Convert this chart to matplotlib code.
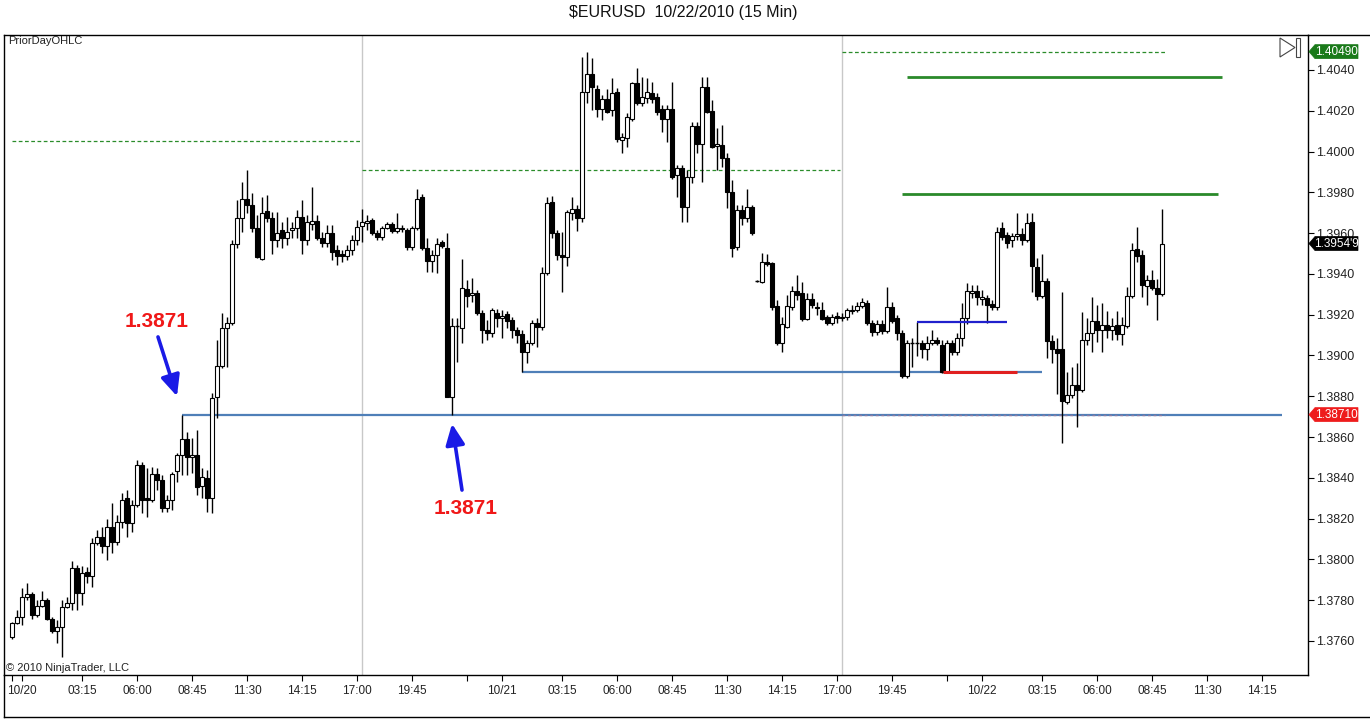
import matplotlib
matplotlib.use("Agg")
import matplotlib.pyplot as plt
from matplotlib.patches import Rectangle, Polygon
import numpy as np

plt.rcParams['font.family'] = ['Liberation Sans', 'DejaVu Sans']

# ---------------- data (15-min bars, 10/19 23:45 .. 10/22 09:15) ----------------
opens = [
1.37619, 1.37688, 1.37717, 1.37815, 1.37830, 1.37727, 1.37771, 1.37801, 1.37707, 1.37649,
1.37668, 1.37766, 1.37786, 1.37958, 1.37835, 1.37938, 1.37918, 1.38080, 1.38110, 1.38065,
1.38159, 1.38085, 1.38183, 1.38301, 1.38178, 1.38266, 1.38463, 1.38301, 1.38291, 1.38418,
1.38389, 1.38252, 1.38291, 1.38433, 1.38512, 1.38590, 1.38502, 1.38512, 1.38360, 1.38399,
1.38301, 1.38796, 1.38948, 1.39134, 1.39159, 1.39546, 1.39674, 1.39767, 1.39738, 1.39625,
1.39473, 1.39708, 1.39674, 1.39566, 1.39615, 1.39576, 1.39615, 1.39625, 1.39679, 1.39566,
1.39644, 1.39659, 1.39576, 1.39551, 1.39600, 1.39517, 1.39497, 1.39488, 1.39517, 1.39566,
1.39635, 1.39649, 1.39664, 1.39600, 1.39581, 1.39625, 1.39644, 1.39610, 1.39625, 1.39615,
1.39532, 1.39625, 1.39777, 1.39527, 1.39463, 1.39493, 1.39556, 1.39527, 1.38796, 1.39144,
1.39134, 1.39326, 1.39296, 1.39306, 1.39208, 1.39125, 1.39110, 1.39208, 1.39184, 1.39203,
1.39174, 1.39125, 1.39105, 1.39017, 1.39061, 1.39159, 1.39139, 1.39404, 1.39752, 1.39600,
1.39493, 1.39483, 1.39698, 1.39718, 1.39674, 1.40292, 1.40380, 1.40307, 1.40208, 1.40258,
1.40204, 1.40292, 1.40056, 1.40066, 1.40159, 1.40336, 1.40238, 1.40262, 1.40287, 1.40267,
1.40208, 1.40159, 1.40208, 1.39885, 1.39919, 1.39728, 1.39875, 1.40125, 1.40037, 1.40316,
1.40199, 1.40027, 1.40032, 1.39968, 1.39801, 1.39532, 1.39713, 1.39674, 1.39728, 1.39365,
1.39360, 1.39458, 1.39453, 1.39242, 1.39061, 1.39139, 1.39238, 1.39316, 1.39306, 1.39179,
1.39277, 1.39238, 1.39223, 1.39188, 1.39159, 1.39193, 1.39188, 1.39188, 1.39218, 1.39223,
1.39242, 1.39257, 1.39159, 1.39115, 1.39154, 1.39120, 1.39238, 1.39184, 1.39110, 1.38899,
1.39061, 1.39061, 1.39061, 1.39031, 1.39061, 1.39076, 1.39051, 1.38919, 1.39061, 1.39017,
1.39085, 1.39184, 1.39306, 1.39316, 1.39277, 1.39282, 1.39252, 1.39238, 1.39625, 1.39591,
1.39566, 1.39586, 1.39595, 1.39566, 1.39654, 1.39434, 1.39291, 1.39365, 1.39071, 1.39031,
1.39031, 1.38772, 1.38806, 1.38855, 1.38830, 1.39076, 1.39110, 1.39169, 1.39125, 1.39149,
1.39125, 1.39149, 1.39105, 1.39144, 1.39291, 1.39522, 1.39493, 1.39341, 1.39370, 1.39331,
1.39301]

highs = [
1.37693, 1.37752, 1.37859, 1.37884, 1.37840, 1.37801, 1.37845, 1.37810, 1.37717, 1.37702,
1.37801, 1.37815, 1.37992, 1.37972, 1.37967, 1.37962, 1.38105, 1.38144, 1.38159, 1.38198,
1.38276, 1.38217, 1.38325, 1.38340, 1.38291, 1.38487, 1.38477, 1.38448, 1.38453, 1.38448,
1.38414, 1.38315, 1.38428, 1.38521, 1.38710, 1.38624, 1.38595, 1.38634, 1.38448, 1.38438,
1.38816, 1.39076, 1.39208, 1.39188, 1.39566, 1.39762, 1.39850, 1.39909, 1.39797, 1.39689,
1.39777, 1.39787, 1.39703, 1.39703, 1.39654, 1.39679, 1.39654, 1.39713, 1.39762, 1.39689,
1.39826, 1.39689, 1.39605, 1.39640, 1.39640, 1.39542, 1.39517, 1.39542, 1.39591, 1.39664,
1.39718, 1.39689, 1.39674, 1.39615, 1.39635, 1.39654, 1.39654, 1.39698, 1.39640, 1.39625,
1.39635, 1.39816, 1.39792, 1.39576, 1.39517, 1.39576, 1.39566, 1.39600, 1.39184, 1.39184,
1.39473, 1.39370, 1.39380, 1.39321, 1.39223, 1.39174, 1.39233, 1.39228, 1.39223, 1.39218,
1.39188, 1.39139, 1.39125, 1.39076, 1.39174, 1.39184, 1.39434, 1.39777, 1.39782, 1.39615,
1.39605, 1.39713, 1.39777, 1.39738, 1.40464, 1.40490, 1.40459, 1.40326, 1.40277, 1.40307,
1.40361, 1.40311, 1.40091, 1.40189, 1.40341, 1.40410, 1.40365, 1.40361, 1.40341, 1.40287,
1.40228, 1.40228, 1.40341, 1.39934, 1.39934, 1.39909, 1.40145, 1.40145, 1.40365, 1.40365,
1.40253, 1.40115, 1.40130, 1.39993, 1.39860, 1.39738, 1.39738, 1.39816, 1.39738, 1.39370,
1.39502, 1.39497, 1.39458, 1.39272, 1.39188, 1.39296, 1.39341, 1.39394, 1.39360, 1.39306,
1.39306, 1.39262, 1.39262, 1.39198, 1.39203, 1.39213, 1.39208, 1.39233, 1.39247, 1.39262,
1.39282, 1.39272, 1.39174, 1.39174, 1.39174, 1.39336, 1.39262, 1.39198, 1.39125, 1.39076,
1.39085, 1.39164, 1.39076, 1.39095, 1.39125, 1.39090, 1.39076, 1.39076, 1.39076, 1.39110,
1.39257, 1.39355, 1.39345, 1.39345, 1.39321, 1.39296, 1.39272, 1.39630, 1.39654, 1.39605,
1.39600, 1.39698, 1.39625, 1.39698, 1.39698, 1.39478, 1.39497, 1.39380, 1.39100, 1.39085,
1.39311, 1.38919, 1.38943, 1.38963, 1.39213, 1.39184, 1.39287, 1.39247, 1.39257, 1.39218,
1.39184, 1.39218, 1.39188, 1.39336, 1.39551, 1.39630, 1.39517, 1.39394, 1.39419, 1.39375,
1.39718]

lows = [
1.37609, 1.37683, 1.37678, 1.37801, 1.37707, 1.37717, 1.37766, 1.37702, 1.37639, 1.37590,
1.37521, 1.37761, 1.37752, 1.37752, 1.37776, 1.37884, 1.37864, 1.38070, 1.38031, 1.37997,
1.38031, 1.38070, 1.38154, 1.38110, 1.38134, 1.38257, 1.38227, 1.38208, 1.38281, 1.38340,
1.38232, 1.38232, 1.38242, 1.38379, 1.38414, 1.38414, 1.38423, 1.38315, 1.38301, 1.38232,
1.38227, 1.38693, 1.38938, 1.38943, 1.39149, 1.39527, 1.39605, 1.39698, 1.39605, 1.39478,
1.39468, 1.39654, 1.39497, 1.39532, 1.39527, 1.39542, 1.39576, 1.39576, 1.39497, 1.39542,
1.39615, 1.39566, 1.39532, 1.39532, 1.39468, 1.39443, 1.39458, 1.39468, 1.39493, 1.39542,
1.39556, 1.39615, 1.39591, 1.39566, 1.39566, 1.39620, 1.39600, 1.39600, 1.39605, 1.39517,
1.39517, 1.39615, 1.39517, 1.39409, 1.39409, 1.39404, 1.39527, 1.38796, 1.38710, 1.38968,
1.39061, 1.39238, 1.39262, 1.39198, 1.39061, 1.39076, 1.39090, 1.39139, 1.39085, 1.39134,
1.39085, 1.39061, 1.38919, 1.38963, 1.39051, 1.39041, 1.39125, 1.39394, 1.39576, 1.39468,
1.39311, 1.39439, 1.39664, 1.39610, 1.39654, 1.40238, 1.40204, 1.40169, 1.40154, 1.40189,
1.40174, 1.40047, 1.39993, 1.40022, 1.40150, 1.40228, 1.40223, 1.40238, 1.40238, 1.40179,
1.40096, 1.40047, 1.39865, 1.39777, 1.39654, 1.39654, 1.39846, 1.39993, 1.39850, 1.40189,
1.40017, 1.39909, 1.39924, 1.39723, 1.39483, 1.39517, 1.39640, 1.39654, 1.39591, 1.39360,
1.39355, 1.39439, 1.39223, 1.39051, 1.39017, 1.39134, 1.39223, 1.39272, 1.39169, 1.39174,
1.39233, 1.39198, 1.39174, 1.39149, 1.39149, 1.39159, 1.39169, 1.39174, 1.39203, 1.39213,
1.39233, 1.39149, 1.39095, 1.39100, 1.39105, 1.39110, 1.39159, 1.39076, 1.38889, 1.38889,
1.38943, 1.38997, 1.38987, 1.38978, 1.39051, 1.39051, 1.38914, 1.38914, 1.39002, 1.39002,
1.39046, 1.39154, 1.39282, 1.39247, 1.39247, 1.39159, 1.39223, 1.39223, 1.39566, 1.39527,
1.39532, 1.39566, 1.39542, 1.39556, 1.39311, 1.39272, 1.39282, 1.38987, 1.38963, 1.38811,
1.38570, 1.38762, 1.38791, 1.38649, 1.38821, 1.39051, 1.39017, 1.39066, 1.39017, 1.39085,
1.39076, 1.39076, 1.39051, 1.39134, 1.39282, 1.39458, 1.39287, 1.39247, 1.39321, 1.39174,
1.39291]

closes = [
1.37688, 1.37717, 1.37815, 1.37830, 1.37727, 1.37771, 1.37801, 1.37707, 1.37649, 1.37668,
1.37766, 1.37786, 1.37958, 1.37835, 1.37933, 1.37918, 1.38080, 1.38110, 1.38065, 1.38159,
1.38085, 1.38183, 1.38291, 1.38178, 1.38266, 1.38463, 1.38291, 1.38291, 1.38418, 1.38389,
1.38252, 1.38291, 1.38418, 1.38512, 1.38590, 1.38502, 1.38512, 1.38355, 1.38404, 1.38301,
1.38791, 1.38948, 1.39134, 1.39159, 1.39546, 1.39674, 1.39767, 1.39738, 1.39625, 1.39483,
1.39698, 1.39674, 1.39566, 1.39600, 1.39576, 1.39605, 1.39625, 1.39679, 1.39566, 1.39654,
1.39659, 1.39576, 1.39551, 1.39600, 1.39507, 1.39488, 1.39488, 1.39517, 1.39566, 1.39630,
1.39654, 1.39659, 1.39600, 1.39581, 1.39625, 1.39644, 1.39610, 1.39625, 1.39620, 1.39532,
1.39625, 1.39767, 1.39527, 1.39463, 1.39493, 1.39546, 1.39537, 1.38796, 1.39144, 1.39144,
1.39331, 1.39291, 1.39306, 1.39208, 1.39125, 1.39110, 1.39223, 1.39184, 1.39193, 1.39169,
1.39125, 1.39100, 1.39017, 1.39061, 1.39159, 1.39139, 1.39404, 1.39748, 1.39600, 1.39493,
1.39483, 1.39703, 1.39718, 1.39674, 1.40292, 1.40380, 1.40316, 1.40208, 1.40258, 1.40194,
1.40287, 1.40061, 1.40071, 1.40169, 1.40336, 1.40238, 1.40267, 1.40292, 1.40258, 1.40194,
1.40159, 1.40208, 1.39875, 1.39919, 1.39728, 1.39875, 1.40125, 1.40037, 1.40316, 1.40194,
1.40022, 1.40037, 1.39968, 1.39801, 1.39527, 1.39713, 1.39674, 1.39728, 1.39600, 1.39365,
1.39458, 1.39448, 1.39238, 1.39061, 1.39154, 1.39242, 1.39316, 1.39296, 1.39179, 1.39277,
1.39247, 1.39233, 1.39179, 1.39159, 1.39188, 1.39184, 1.39184, 1.39223, 1.39223, 1.39242,
1.39262, 1.39159, 1.39115, 1.39154, 1.39120, 1.39238, 1.39169, 1.39110, 1.38899, 1.39061,
1.39061, 1.39061, 1.39031, 1.39061, 1.39076, 1.39061, 1.38919, 1.39061, 1.39017, 1.39085,
1.39184, 1.39316, 1.39316, 1.39287, 1.39287, 1.39247, 1.39238, 1.39605, 1.39581, 1.39551,
1.39586, 1.39595, 1.39566, 1.39649, 1.39439, 1.39291, 1.39365, 1.39071, 1.39031, 1.39012,
1.38777, 1.38806, 1.38855, 1.38830, 1.39076, 1.39110, 1.39169, 1.39125, 1.39149, 1.39125,
1.39144, 1.39105, 1.39149, 1.39291, 1.39517, 1.39488, 1.39345, 1.39370, 1.39331, 1.39301,
1.39549]

# x-axis ticks (bar index) and labels
tick_pos = [0, 2, 14, 25, 36, 47, 58, 69, 80, 91, 98, 110, 121, 132, 143, 154, 165, 176,
            187, 194, 206, 217, 228, 239, 250]
tick_lbl = ["", "10/20", "03:15", "06:00", "08:45", "11:30", "14:15", "17:00", "19:45", "",
            "10/21", "03:15", "06:00", "08:45", "11:30", "14:15", "17:00", "19:45", "",
            "10/22", "03:15", "06:00", "08:45", "11:30", "14:15"]
price_ticks = [1.3760, 1.3780, 1.3800, 1.3820, 1.3840, 1.3860, 1.3880, 1.3900,
               1.3920, 1.3940, 1.3960, 1.3980, 1.4000, 1.4020, 1.4040]

session_starts = [70, 166]
prior_high = [1.40050, 1.39910, 1.40490]
prior_high_span = [(0, 69.6), (70, 165.6), (166, 230.6)]
prior_low = 1.38710
prior_low_span = (166, 230.6)
support_1 = 1.38710
support_1_span = (34, 254)
support_2 = 1.38919
support_2_span = (102, 206)
blue_level = 1.39164
blue_span = (181, 199)
red_level = 1.38919
red_span = (186.2, 201)
green_levels = [1.40365, 1.39792]
green_spans = [(179, 242), (178, 241.2)]
last_price = 1.39549

W, H = 1370, 719
fig = plt.figure(figsize=(W / 100, H / 100), dpi=100)
fig.patch.set_facecolor('white')

AX_L, AX_R, AX_T, AX_B = 4, 1308, 35, 675
ax = fig.add_axes([AX_L / W, 1 - AX_B / H, (AX_R - AX_L) / W, (AX_B - AX_T) / H])
ax.set_facecolor('white')

XMIN, XMAX = -1.6, 259.2
YMIN, YMAX = 1.374331, 1.405716
ax.set_xlim(XMIN, XMAX)
ax.set_ylim(YMIN, YMAX)

def fx(px):
    return px / W

def fy(py):
    return 1 - py / H

def price_to_py(p):
    return AX_T + (YMAX - p) / (YMAX - YMIN) * (AX_B - AX_T)

# session separators
for s in session_starts:
    ax.axvline(s, color='#c8c8c8', lw=1.0, zorder=1)

# candles
n = len(closes)
xs = np.arange(n)
ax.vlines(xs, lows, highs, color='black', lw=1.0, zorder=3)
bw = 0.78
for i in range(n):
    o, c = opens[i], closes[i]
    bot = min(o, c)
    h = abs(c - o)
    fc = 'white' if c >= o else 'black'
    if h < 1e-6:
        ax.hlines(o, i - bw / 2, i + bw / 2, color='black', lw=1.0, zorder=4)
    else:
        ax.add_patch(Rectangle((i - bw / 2, bot), bw, h, facecolor=fc,
                               edgecolor='black', lw=0.8, zorder=4))

# prior day OHLC lines
for lvl, (a, b) in zip(prior_high, prior_high_span):
    ax.hlines(lvl, a, b, color='#2a8c2a', lw=0.9, linestyles=(0, (3, 2)), zorder=2)
ax.hlines(prior_low, prior_low_span[0], prior_low_span[1], color='#8c7aa0', lw=1.0,
          linestyles=(0, (2, 2)), zorder=2.5)

# drawn lines
ax.hlines(support_1, *support_1_span, color='#4f7fb8', lw=1.6, zorder=2)
ax.hlines(support_2, *support_2_span, color='#4f7fb8', lw=1.6, zorder=2)
ax.hlines(blue_level, *blue_span, color='#2020cc', lw=1.6, zorder=5)
ax.hlines(red_level, *red_span, color='#e02020', lw=2.2, zorder=5)
for lvl, sp in zip(green_levels, green_spans):
    ax.hlines(lvl, *sp, color='#2a8a2a', lw=2.0, zorder=2)

# annotations
red_txt = '#f01818'
ax.text(29.0, 1.39169, "1.3871", color=red_txt, fontsize=15, fontweight='bold',
        ha='center', va='center', zorder=6)
ax.text(90.8, 1.38252, "1.3871", color=red_txt, fontsize=15, fontweight='bold',
        ha='center', va='center', zorder=6)
arrow_kw = dict(arrowstyle='-|>,head_length=0.7,head_width=0.32', color='#1a1ae6',
                lw=2.6, mutation_scale=18, shrinkA=0, shrinkB=0)
ax.annotate('', xy=(33.0, 1.38800), xytext=(29.2, 1.39091), arrowprops=arrow_kw, zorder=6)
ax.annotate('', xy=(88.0, 1.38665), xytext=(90.0, 1.38340), arrowprops=arrow_kw, zorder=6)

# axes styling
for side in ['top', 'left', 'right', 'bottom']:
    ax.spines[side].set_color('black')
    ax.spines[side].set_linewidth(1.0)
ax.yaxis.tick_right()
ax.set_yticks(price_ticks)
ax.set_yticklabels([f"{p:.4f}" for p in price_ticks])
ax.tick_params(axis='y', direction='out', length=4, width=0.8, pad=2,
               labelsize=9, labelcolor='#222222', colors='black')
ax.set_xticks(tick_pos)
ax.set_xticklabels(tick_lbl)
ax.tick_params(axis='x', direction='out', length=4.5, width=0.8, pad=2.5,
               labelsize=8.5, labelcolor='#222222', colors='black')

# outer frame pieces
fig.add_artist(plt.Line2D([fx(AX_R), fx(1370)], [fy(AX_T), fy(AX_T)], color='black', lw=1.0))
fig.add_artist(plt.Line2D([fx(AX_L), fx(AX_L)], [fy(AX_B), fy(717)], color='black', lw=1.0))
fig.add_artist(plt.Line2D([fx(AX_L), fx(1370)], [fy(717), fy(717)], color='black', lw=1.0))

# price tags
def tag(price, text, color):
    py = price_to_py(price)
    hh = 7
    verts = [(fx(1309), fy(py)), (fx(1315), fy(py - hh)), (fx(1358), fy(py - hh)),
             (fx(1358), fy(py + hh)), (fx(1315), fy(py + hh))]
    fig.add_artist(Polygon(verts, closed=True, facecolor=color, edgecolor=color, lw=0.5,
                           zorder=10))
    fig.text(fx(1336.5), fy(py), text, color='white', fontsize=8.5, ha='center',
             va='center', zorder=11)

tag(prior_high[2], "1.40490", '#1a7a1a')
tag(last_price, "1.3954'9", '#000000')
tag(prior_low, "1.38710", '#ee1c1c')

# play icon
fig.add_artist(Polygon([(fx(1280), fy(38)), (fx(1280), fy(57)), (fx(1295), fy(47.5))],
                       closed=True, facecolor='white', edgecolor='#444444', lw=0.8))
fig.add_artist(Rectangle((fx(1296), fy(57)), fx(4), 19 / H, facecolor='white',
                         edgecolor='#444444', lw=0.8))

# texts
fig.text(fx(683), fy(12), "$EURUSD  10/22/2010 (15 Min)", ha='center', va='center',
         fontsize=11.5, color='#111111', parse_math=False)
fig.text(fx(8), fy(41.5), "PriorDayOHLC", ha='left', va='center', fontsize=8,
         color='#222222', zorder=12)
fig.text(fx(6), fy(668), "\u00a9 2010 NinjaTrader, LLC", ha='left', va='center',
         fontsize=8, color='#222222')

fig.savefig("out.png", dpi=100, facecolor='white')
